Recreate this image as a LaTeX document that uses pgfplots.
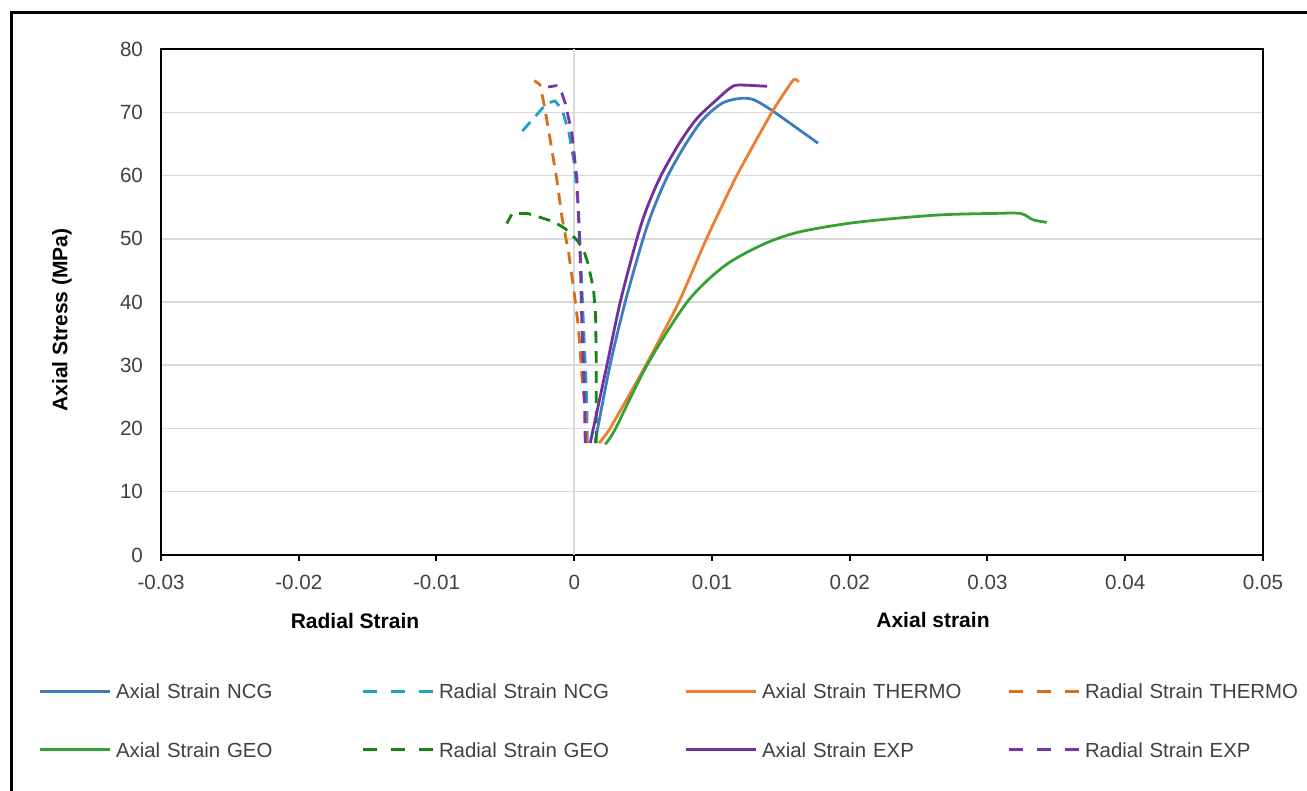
\documentclass[border=0pt]{standalone}
\usepackage{pgfplots}
\pgfplotsset{compat=1.18}
\usepackage{fontspec}
\setmainfont{Liberation Sans}
\definecolor{ncgA}{RGB}{62,124,192}
\definecolor{ncgR}{RGB}{35,160,190}
\definecolor{thA}{RGB}{237,125,49}
\definecolor{thR}{RGB}{214,112,24}
\definecolor{geoA}{RGB}{54,162,54}
\definecolor{geoR}{RGB}{20,132,20}
\definecolor{expA}{RGB}{112,48,160}
\definecolor{expR}{RGB}{120,56,170}
\definecolor{gridgray}{RGB}{217,217,217}
\definecolor{txtgray}{RGB}{64,64,64}
\begin{document}
\begin{tikzpicture}
\useasboundingbox (0,0) rectangle (653.5pt,395.5pt);
\draw[line width=1.5pt] (5.5pt,-2pt) -- (5.5pt,389pt) -- (660pt,389pt);
\begin{axis}[
  at={(80.5pt,118pt)}, anchor=south west,
  width=551pt, height=253pt, scale only axis,
  xmin=-0.03, xmax=0.05, ymin=0, ymax=80,
  xtick={-0.03,-0.02,-0.01,0,0.01,0.02,0.03,0.04,0.05},
  ytick={0,10,20,30,40,50,60,70,80},
  xtick pos=bottom,
  scaled x ticks=false,
  /pgf/number format/fixed, /pgf/number format/precision=2,
  /pgf/number format/assume math mode=true,
  ticklabel style={font=\fontsize{10.3}{12}\selectfont, text=txtgray},
  xticklabel style={yshift=-3.5pt},
  yticklabel style={xshift=-2.5pt},
  ymajorgrids, grid style={color=gridgray, line width=0.75pt},
  axis line style={line width=1.4pt},
  tick align=outside, major tick length=3pt,
  ytick style={draw=none}, xtick style={black, line width=1pt},
  legend columns=4,
  legend cell align=left,
  legend style={draw=none, fill=none, inner sep=0pt, outer sep=0pt,
    at={(axis description cs:-0.1116,-0.3271)}, anchor=west,
    font=\fontsize{10.2}{12}\selectfont, text=txtgray,
    nodes={inner sep=0pt, text width=120pt, align=left, text height=7.4pt, text depth=0pt},
    /tikz/every odd column/.append style={column sep=2.5pt},
    /tikz/every even column/.append style={column sep=2.5pt},
    row sep=22pt},
  legend image code/.code={\draw[#1, line width=1.5pt] (0pt,0pt) -- (35pt,0pt);},
]
\draw[gridgray, line width=0.75pt] (axis cs:0,0) -- (axis cs:0,80);

\addplot[ncgA, line width=1.4pt, smooth, tension=0.5] coordinates {
(0.0015,17.7) (0.0026,30) (0.0037,40) (0.0050,50) (0.0058,55) (0.0068,60)
(0.0081,65) (0.0094,69) (0.0108,71.5) (0.0121,72.2) (0.0130,72.0) (0.0140,70.8)
(0.0150,69.3) (0.0177,65.1)};
\addlegendentry{Axial Strain NCG}

\addplot[ncgR, line width=1.4pt, dash pattern=on 6pt off 4pt,
  legend image post style={dash pattern=on 7pt off 7pt}] coordinates {
(0.00095,17.7) (0.0009,25) (0.0007,35) (0.0005,45) (0.0003,55) (0.0,62)
(-0.0004,67) (-0.0009,70.5) (-0.0014,71.8) (-0.002,71.4) (-0.0039,66.7)};
\addlegendentry{Radial Strain NCG}

\addplot[thA, line width=1.4pt, smooth, tension=0.3] coordinates {
(0.0018,17.7) (0.0026,20) (0.0052,30) (0.0076,40) (0.0096,50) (0.0118,60)
(0.01435,70) (0.0159,75.1) (0.0163,74.8)};
\addlegendentry{Axial Strain THERMO}

\addplot[thR, line width=1.4pt, dash pattern=on 6pt off 4pt,
  legend image post style={dash pattern=on 7pt off 7pt}] coordinates {
(0.0009,17.7) (0.0008,22.9) (0.00056,28.2) (0.0003,36.1) (0,41.4) (-0.0004,47.7)
(-0.0009,53.5) (-0.00126,59.3) (-0.00174,65.6) (-0.0022,71.4) (-0.0025,74.4)
(-0.0029,75.0)};
\addlegendentry{Radial Strain THERMO}

\addplot[geoA, line width=1.4pt, smooth, tension=0.5] coordinates {
(0.00225,17.5) (0.003,20) (0.00528,30) (0.0082,40) (0.01084,45.6)
(0.0136,49.0) (0.0162,51.0) (0.0198,52.4) (0.0232,53.2) (0.0268,53.8)
(0.0304,54.0) (0.0324,54.0) (0.0333,53.0) (0.0343,52.6)};
\addlegendentry{Axial Strain GEO}

\addplot[geoR, line width=1.4pt, dash pattern=on 6pt off 4pt,
  legend image post style={dash pattern=on 7pt off 7pt}] coordinates {
(0.0016,17.7) (0.0016,30) (0.00155,38) (0.0014,42) (0.001,46.1) (0.00068,48.2)
(0.0002,49.8) (-0.00065,51.6) (-0.0015,52.7) (-0.0025,53.4) (-0.0034,54.0)
(-0.0045,54.0) (-0.0049,52.4)};
\addlegendentry{Radial Strain GEO}

\addplot[expA, line width=1.4pt, smooth, tension=0.5] coordinates {
(0.00116,17.7) (0.00237,30) (0.00334,40) (0.00455,50) (0.0053,55) (0.0063,60)
(0.0076,65) (0.0089,69) (0.0105,72.3) (0.0113,73.8) (0.0119,74.3)
(0.0140,74.1)};
\addlegendentry{Axial Strain EXP}

\addplot[expR, line width=1.4pt, dash pattern=on 6pt off 4pt,
  legend image post style={dash pattern=on 7pt off 7pt}] coordinates {
(0.0008,17.7) (0.00073,25.6) (0.00056,36.1) (0.00044,46.6) (0.0002,59.3)
(-0.00017,66.7) (-0.00065,71.4) (-0.0009,73) (-0.0013,74.2) (-0.0019,74.0)};
\addlegendentry{Radial Strain EXP}
\end{axis}
\node[rotate=90, font=\bfseries\fontsize{10.5}{12}\selectfont] at (31pt,235.5pt) {Axial Stress (MPa)};
\node[font=\bfseries\fontsize{10.5}{12}\selectfont] at (177.5pt,85pt) {Radial Strain};
\node[font=\bfseries\fontsize{10.5}{12}\selectfont] at (466.5pt,85.5pt) {Axial strain};
\end{tikzpicture}
\end{document}
